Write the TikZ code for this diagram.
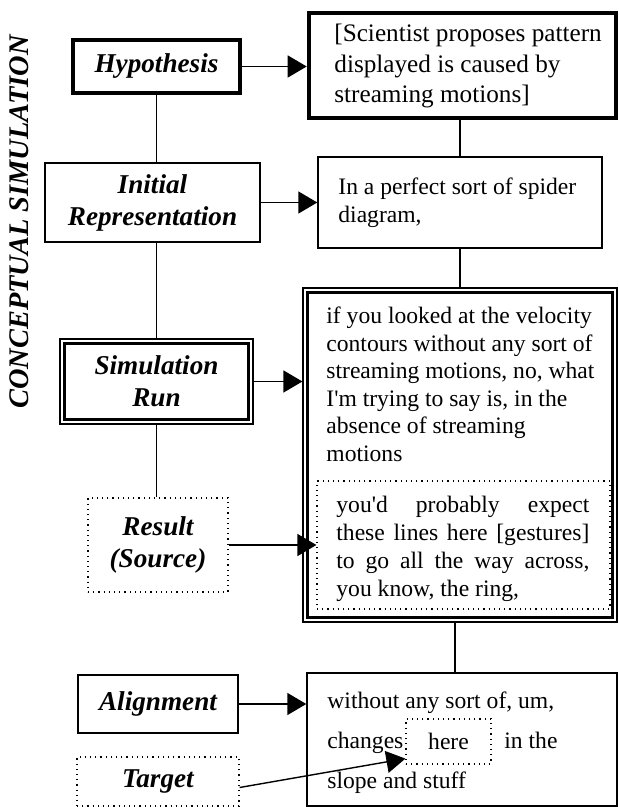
\documentclass[tikz,border=0pt]{standalone}
\usepackage{fontspec}
\setmainfont{Liberation Serif}[Ligatures=TeXOff]
\usepackage{tikz}
\usetikzlibrary{arrows.meta}
\usetikzlibrary{positioning}

\begin{document}
\begin{tikzpicture}[x=0.5pt, y=-0.5pt,
	lbl/.style={font=\fontsize{13.6}{16}\selectfont\bfseries\itshape, align=center},
	txt/.style={font=\fontsize{11.8}{13.8}\selectfont, anchor=base west, inner sep=0pt, align=left, text width=160pt,
		execute at begin node={\spaceskip=0pt\xspaceskip=0pt\relax}},
	thk/.style={draw, line width=2.3pt},
	box/.style={draw, line width=0.7pt},
	dot/.style={draw, dotted, line width=0.6pt},
	dbl/.style={draw, line width=0.6pt, path picture={\draw[line width=1.2pt]
		([shift={(2.3pt,-2.3pt)}]path picture bounding box.north west) rectangle
		([shift={(-2.3pt,2.3pt)}]path picture bounding box.south east);}},
	arr/.style={-{Triangle[length=9.5pt, width=11pt]}, line width=0.7pt}]
	\useasboundingbox (0,0) rectangle (618,807);
	\node[lbl, font=\fontsize{14.2}{16}\selectfont\bfseries\itshape, rotate=90] (17) at (19, 222) {CONCEPTUAL SIMULATION};
	\node[thk, lbl, minimum width=83.5pt, minimum height=26.5pt] (0) at (156.5, 66.5) {Hypothesis};
	\node[thk, minimum width=153.5pt, minimum height=52.5pt] (1) at (462.5, 65.5) {};
	\node[txt, font=\fontsize{12.6}{15.25}\selectfont] (2) at (334, 42) {[Scientist proposes pattern\\displayed is caused by\\streaming motions]};
	\node[box, lbl, minimum width=107.5pt, minimum height=39.5pt] (3) at (152.5, 202.5) {Initial\\Representation};
	\node[box, minimum width=142pt, minimum height=45.5pt] (4) at (460, 202.5) {};
	\node[txt, font=\fontsize{11.8}{14}\selectfont] (5) at (338, 195) {In a perfect sort of spider\\diagram,};
	\node[dbl, lbl, minimum width=96.5pt, minimum height=42.5pt] (6) at (156.5, 381.5) {Simulation\\Run};
	\node[dbl, minimum width=157pt, minimum height=167pt] (7) at (460, 455) {};
	\node[txt] (8) at (326, 323.5) {if you looked at the velocity\\contours without any sort of\\streaming motions, no, what\\I'm trying to say is, in the\\absence of streaming\\motions};
	\node[dot, minimum width=146.5pt, minimum height=64pt] (9) at (463.5, 545) {};
	\node[txt, text width=126.5pt, font=\fontsize{11.8}{14}\selectfont] (10) at (336, 512) {\makebox[\linewidth][s]{you'd\hfill probably\hfill expect}\\\makebox[\linewidth][s]{these\hfill lines\hfill here\hfill [gestures]}\\\makebox[\linewidth][s]{to\hfill go\hfill all\hfill the\hfill way\hfill across,}\\you know, the ring,};
	\node[dot, lbl, minimum width=70pt, minimum height=47pt] (11) at (158, 545) {Result\\(Source)};
	\node[box, lbl, minimum width=80pt, minimum height=29pt] (12) at (158, 704) {Alignment};
	\node[box, minimum width=155pt, minimum height=66.5pt] (13) at (462, 739.5) {};
	\node[txt, font=\fontsize{11.8}{20}\selectfont] (14) at (327, 708) {without any sort of, um,\\changes\hspace*{50.5pt}in the\\slope and stuff};
	\node[dot, minimum width=42.5pt, minimum height=22.5pt, inner sep=0pt, font=\fontsize{11.8}{14}\selectfont] (15) at (448.5, 741.5) {here};
	\node[dot, lbl, minimum width=81pt, minimum height=24.5pt] (16) at (158, 781.5) {Target};
	\draw[line width=0.7pt] (0.south) to (0.south |- 3.north);
	\draw[line width=0.7pt] (6.north) to (6.north |- 3.south);
	\draw[line width=0.7pt] (6.south) to (6.south |- 11.north);
	\draw[line width=0.7pt] (4.north) to (4.north |- 1.south);
	\draw[line width=0.7pt] (4.south) to (4.south |- 7.north);
	\draw[line width=0.7pt] ([xshift=-2.5pt]7.south) to ([xshift=-2.5pt]7.south |- 13.north);
	\draw[arr] (0.east) to (0.east -| 1.west);
	\draw[arr] (3.east) to (3.east -| 4.west);
	\draw[arr] (6.east) to (6.east -| 7.west);
	\draw[arr] (11.east) to (11.east -| 9.west);
	\draw[arr] (12.east) to (12.east -| 13.west);
	\draw[arr] ([yshift=-3pt]16.east) to ([yshift=3pt]15.south west);
\end{tikzpicture}
\end{document}
